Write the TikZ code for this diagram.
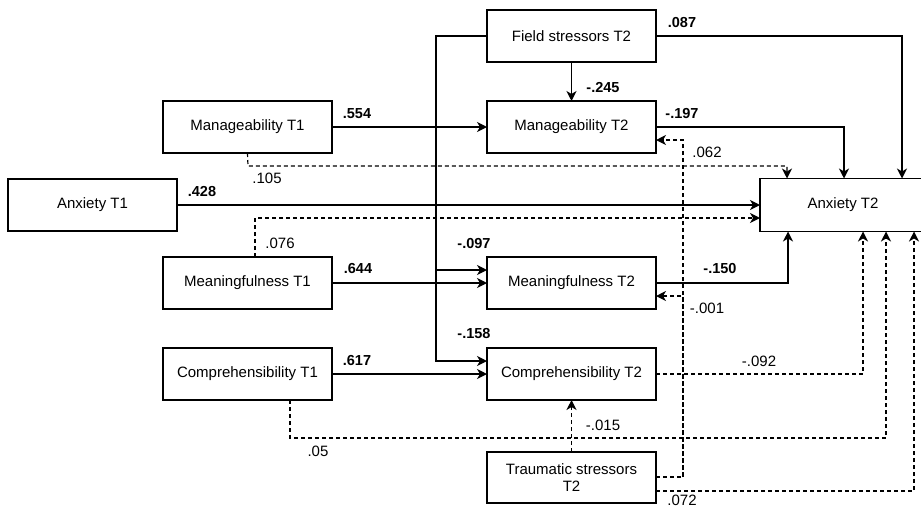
\documentclass[tikz,border=0pt]{standalone}
\usepackage{fontspec}
\setmainfont{Liberation Sans}
\usetikzlibrary{arrows.meta}
\tikzset{
  var/.style={draw,line width=1.2pt,minimum width=169pt,minimum height=52pt,inner sep=0pt,outer sep=0pt,align=center,font=\fontsize{15}{17}\selectfont},
  eff/.style={line width=1.2pt,-{Stealth[length=10pt,width=10pt,inset=3pt]}},
  ns/.style={eff,dash pattern=on 4pt off 3pt},
  coef/.style={font=\fontsize{14.5}{16}\selectfont\bfseries},
  ncoef/.style={font=\fontsize{15}{17}\selectfont}
}
\begin{document}
\begin{tikzpicture}[x=1pt,y=-1pt]
\useasboundingbox (0,0) rectangle (921,507);
\node[var] (fs2) at (571.5,36) {Field stressors T2};
\node[var] (man1) at (247.5,127) {Manageability T1};
\node[var] (man2) at (571.5,127) {Manageability T2};
\node[var] (anx1) at (92.5,205) {Anxiety T1};
\node[var,minimum width=166pt,minimum height=53pt] (anx2) at (843,205) {Anxiety T2};
\node[var] (mea1) at (247.5,283) {Meaningfulness T1};
\node[var] (mea2) at (571.5,283) {Meaningfulness T2};
\node[var] (com1) at (247.5,374) {Comprehensibility T1};
\node[var] (com2) at (571.5,374) {Comprehensibility T2};
\node[var,minimum height=51pt] (tra2) at (571.5,477.5) {Traumatic stressors\\T2};
\coordinate (fsl) at (436,36);
\coordinate (manl) at (248,166);
\coordinate (coml) at (290,438);
\coordinate (trav) at (683,477);
\draw[eff] (fs2.west) -- (fsl) |- ([yshift=13pt]mea2.west);
\draw[eff] (fsl) |- ([yshift=13pt]com2.west);
\draw[eff] (fs2.south) -- (man2.north);
\draw[eff] (fs2.east) -| ([xshift=59pt]anx2.north);
\draw[eff] (man2.east) -| ([xshift=1pt]anx2.north);
\draw[eff] (man1.east) -- (man2.west);
\draw[ns] (man1.south) -- (manl) -| ([xshift=-56pt]anx2.north);
\draw[eff] (anx1.east) -- (anx2.west);
\draw[ns] ([xshift=7.5pt]mea1.north) |- ([yshift=-13pt]anx2.west);
\draw[eff] (mea1.east) -- (mea2.west);
\draw[eff] (mea2.east) -| ([xshift=-55pt]anx2.south);
\draw[eff] (com1.east) -- (com2.west);
\draw[ns] (com2.east) -| ([xshift=20pt]anx2.south);
\draw[ns] ([xshift=42.5pt]com1.south) -- (coml) -| ([xshift=43pt]anx2.south);
\draw[ns] (tra2.north) -- (com2.south);
\draw[ns] ([yshift=0.5pt]tra2.east) -- (trav) |- ([yshift=-13pt]mea2.east);
\draw[ns] (trav) |- ([yshift=-13pt]man2.east);
\draw[ns] ([yshift=-13.5pt]tra2.east) -| ([xshift=71pt]anx2.south);
\node[coef] (c1) at (682,23) {.087};
\node[coef] (c2) at (603,88) {-.245};
\node[coef] (c3) at (682,114) {-.197};
\node[coef] (c4) at (357,114) {.554};
\node[ncoef] (c5) at (267,178) {.105};
\node[ncoef] (c6) at (707,152) {.062};
\node[coef] (c7) at (202,192) {.428};
\node[ncoef] (c8) at (280,243) {.076};
\node[coef] (c9) at (358,269) {.644};
\node[coef] (c10) at (474,244) {-.097};
\node[coef] (c11) at (720,269) {-.150};
\node[ncoef] (c12) at (707,308) {-.001};
\node[coef] (c13) at (474,334) {-.158};
\node[coef] (c14) at (357,360) {.617};
\node[ncoef] (c15) at (759,361) {-.092};
\node[ncoef] (c16) at (603,425) {-.015};
\node[ncoef] (c17) at (318,451) {.05};
\node[ncoef] (c18) at (682,500) {.072};
\end{tikzpicture}
\end{document}
